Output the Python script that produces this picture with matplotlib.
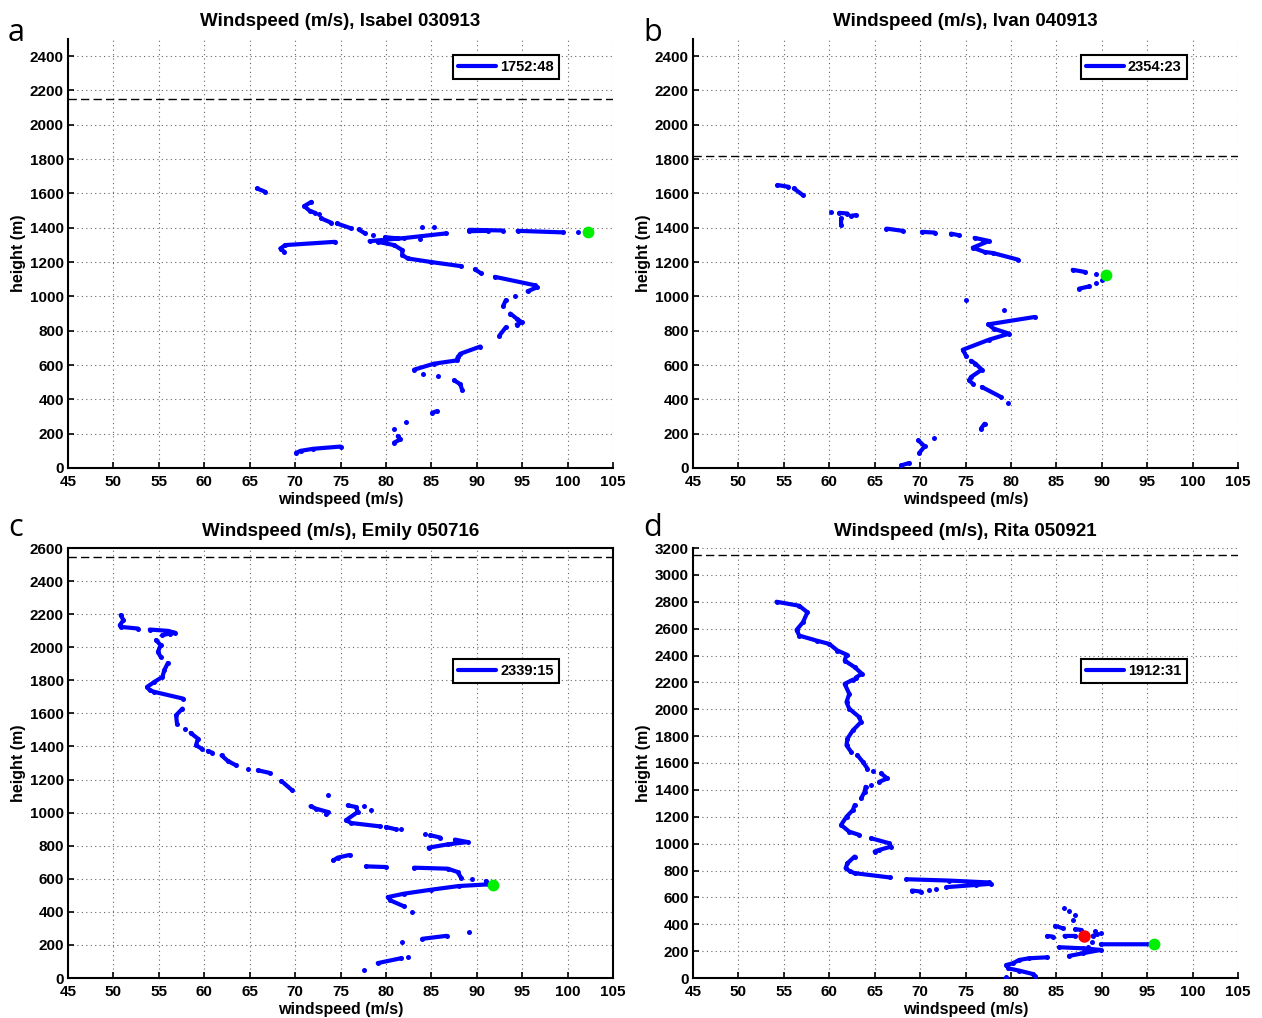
import numpy as np
import matplotlib.pyplot as plt

plt.rcParams["font.family"] = ["Liberation Sans", "DejaVu Sans"]
plt.rcParams["font.weight"] = "bold"

isabel_segments = [
    [(65.8, 1629), (66.7, 1610)],
    [(71.8, 1551), (71.0, 1526), (71.6, 1499), (72.2, 1487)],
    [(72.6, 1478)],
    [(72.9, 1454), (74.0, 1429)],
    [(74.6, 1425), (76.2, 1396)],
    [(77.0, 1390), (77.7, 1367)],
    [(78.6, 1357)],
    [(78.2, 1322), (82.0, 1340), (86.6, 1367)],
    [(79.9, 1345), (81.3, 1338)],
    [(79.1, 1318), (80.9, 1299), (81.8, 1270), (81.8, 1241), (82.4, 1221), (85.0, 1200), (88.3, 1176)],
    [(84.0, 1406)], [(85.3, 1402)], [(83.7, 1332)],
    [(68.4, 1279), (68.9, 1299), (74.4, 1318)],
    [(68.4, 1279), (68.8, 1260)],
    [(89.2, 1388), (92.9, 1384)],
    [(89.2, 1380), (91.2, 1382)],
    [(94.5, 1382), (99.5, 1373)],
    [(101.1, 1373)],
    [(89.8, 1157), (90.5, 1134)],
    [(92.0, 1114), (96.4, 1065), (96.6, 1052), (95.6, 1030)],
    [(94.2, 1002)],
    [(93.2, 978), (92.9, 943)],
    [(93.7, 900), (94.4, 870), (95.0, 848), (94.4, 836)],
    [(93.2, 820), (92.5, 772)],
    [(90.4, 708), (88.2, 666), (87.9, 646), (87.8, 627), (85.3, 608), (83.1, 573)],
    [(84.1, 550)], [(85.7, 534)],
    [(87.5, 511), (88.2, 488), (88.4, 453)],
    [(85.1, 322), (85.6, 331)],
    [(82.2, 270)], [(80.9, 227)],
    [(81.3, 186), (81.6, 167), (80.9, 148)],
    [(70.1, 88), (70.6, 100), (72.0, 112), (75.0, 125)],
]

ivan_segments = [
    [(54.3, 1649), (55.5, 1639)],
    [(56.1, 1629), (57.1, 1590)],
    [(60.2, 1489)],
    [(61.1, 1487), (62.0, 1483)],
    [(62.4, 1470), (62.9, 1473)],
    [(61.3, 1454), (61.3, 1415)],
    [(66.3, 1395), (68.1, 1382)],
    [(70.2, 1376), (71.6, 1372)],
    [(73.4, 1366), (74.3, 1356)],
    [(76.0, 1341), (76.9, 1331), (77.6, 1323), (75.8, 1284), (77.1, 1259), (78.0, 1253), (80.8, 1214)],
    [(86.8, 1155), (88.2, 1142)],
    [(89.4, 1132)], [(89.4, 1080)], [(90.0, 1097)],
    [(87.5, 1045), (88.6, 1058)],
    [(75.0, 977)],
    [(79.2, 922)],
    [(82.6, 880), (77.5, 837), (78.1, 812), (79.8, 783), (77.6, 748), (74.7, 689), (75.1, 650)],
    [(75.6, 625), (76.1, 608), (76.8, 573), (75.6, 530), (75.4, 511), (75.8, 491)],
    [(76.8, 472), (78.9, 414)],
    [(79.7, 381)],
    [(77.1, 258), (76.7, 229)],
    [(71.5, 177)],
    [(69.8, 161), (70.5, 126), (69.9, 87)],
    [(67.9, 15), (68.8, 29)],
]

emily_segments = [
    [(50.8, 2194), (51.1, 2164), (50.7, 2133), (50.8, 2123), (52.7, 2113)],
    [(54.0, 2107), (56.0, 2099), (56.8, 2087), (56.2, 2083), (55.4, 2073)],
    [(54.7, 2043), (55.2, 2012), (54.9, 1972), (55.2, 1942)],
    [(56.0, 1905), (55.6, 1861), (55.4, 1821), (54.5, 1790), (53.7, 1760), (54.0, 1740), (54.5, 1730), (57.7, 1689)],
    [(57.6, 1629), (56.9, 1589), (57.0, 1538)],
    [(57.9, 1508)],
    [(58.5, 1482), (59.3, 1447), (59.1, 1407), (59.7, 1387)],
    [(60.4, 1373), (60.9, 1362)],
    [(61.9, 1346), (62.6, 1312), (63.5, 1286)],
    [(64.8, 1266)],
    [(65.9, 1256), (67.2, 1240)],
    [(68.5, 1191), (69.7, 1134)],
    [(73.6, 1104)],
    [(71.7, 1038), (72.3, 1024), (73.6, 1004), (73.4, 990)],
    [(75.8, 1044), (76.7, 1034), (76.9, 1004), (75.6, 954), (76.2, 937), (79.3, 917)],
    [(77.6, 1040)], [(78.4, 1014)],
    [(80.0, 913), (81.1, 899)],
    [(81.7, 903)],
    [(84.3, 869)],
    [(84.9, 863), (86.0, 849)],
    [(84.7, 788), (86.8, 808), (89.0, 822), (87.6, 837)],
    [(74.2, 711), (74.7, 728), (76.0, 744)],
    [(77.8, 675), (80.0, 671)],
    [(83.1, 667), (86.8, 661), (87.9, 641), (88.3, 604)],
    [(89.5, 596)],
    [(91.0, 586), (91.2, 566), (88.0, 556), (85.0, 534), (82.0, 510), (80.2, 489), (80.5, 469), (82.0, 433)],
    [(82.9, 399)],
    [(89.1, 278)],
    [(84.0, 237), (86.7, 255)],
    [(81.8, 217)],
    [(82.4, 126)],
    [(79.1, 90), (81.7, 120)],
    [(77.6, 51)],
]

rita_segments = [
    [(54.2, 2800), (56.7, 2770), (57.6, 2721), (57.1, 2647), (56.4, 2590), (56.7, 2548), (58.6, 2511),
     (60.0, 2486), (60.9, 2437), (61.9, 2407), (61.7, 2362), (62.8, 2313), (63.6, 2264), (62.9, 2235)],
    [(62.6, 2220), (61.7, 2189), (62.2, 2115), (61.9, 2053), (62.2, 2004), (63.3, 1942), (63.5, 1905),
     (62.6, 1843), (62.0, 1781), (61.9, 1732), (62.4, 1683)],
    [(63.1, 1658), (63.7, 1608), (64.2, 1559)],
    [(64.8, 1542)],
    [(65.7, 1522), (66.4, 1485), (65.5, 1460)],
    [(64.6, 1435)],
    [(64.0, 1423), (63.9, 1386), (63.5, 1336)],
    [(62.8, 1287), (62.6, 1250), (61.9, 1200), (61.3, 1139), (62.2, 1089), (63.3, 1065)],
    [(64.6, 1040), (66.6, 1003), (66.8, 978), (65.5, 953), (65.0, 941)],
    [(62.8, 904), (62.0, 854), (61.8, 817), (62.3, 793), (62.8, 780), (66.7, 748)],
    [(68.5, 735), (73.2, 725), (77.6, 711), (77.8, 701), (76.2, 693), (72.9, 676)],
    [(71.8, 661)], [(71.0, 656)],
    [(69.1, 651), (70.1, 643)],
    [(85.8, 524)], [(86.4, 502)], [(87.0, 470)], [(86.8, 432)],
    [(84.9, 388), (85.7, 370)],
    [(87.1, 363), (87.7, 358)],
    [(89.3, 353)], [(89.9, 338)],
    [(84.0, 313), (84.6, 308)],
    [(85.9, 313), (87.1, 313)],
    [(89.0, 313), (89.5, 328)],
    [(88.9, 271)],
    [(89.9, 251), (95.7, 251)],
    [(85.3, 229), (87.9, 221), (89.9, 209), (87.9, 184), (86.4, 164)],
    [(88.5, 234)],
    [(84.0, 154), (82.0, 147), (80.9, 134), (80.2, 109), (79.5, 97), (79.7, 72), (80.9, 55), (82.4, 30), (82.6, 15)],
    [(79.5, 5)],
]

titles = ["Windspeed (m/s), Isabel 030913", "Windspeed (m/s), Ivan 040913",
          "Windspeed (m/s), Emily 050716", "Windspeed (m/s), Rita 050921"]
legend_labels = ["1752:48", "2354:23", "2339:15", "1912:31"]
panel_letters = ["a", "b", "c", "d"]
dashed_heights = [2150, 1820, 2545, 3150]
y_tops = [2500, 2500, 2600, 3200]
green_points = [(102.2, 1373), (90.5, 1122), (91.8, 564), (95.8, 251)]
red_points = [None, None, None, (88.0, 313)]
profiles = [isabel_segments, ivan_segments, emily_segments, rita_segments]


def to_xy(segments):
    """Join the pieces into one x/y pair with NaN gaps."""
    xs, ys = [], []
    for seg in segments:
        for x, y in seg:
            xs.append(x)
            ys.append(y)
        xs.append(np.nan)
        ys.append(np.nan)
    return np.array(xs), np.array(ys)


W, H = 1262, 1018
fig = plt.figure(figsize=(W / 100, H / 100), dpi=100)

# axes boxes in pixels: left, top, right, bottom
boxes = [(68, 39, 613, 468), (693, 39, 1238, 468), (68, 548, 613, 978), (693, 548, 1238, 978)]
legend_anchor = [(0.901, 0.963), (0.906, 0.963), (0.901, 0.742), (0.906, 0.742)]
letter_pos = [(8, 41), (643, 41), (8, 536), (643, 536)]

for i in range(4):
    l, t, r, b = boxes[i]
    ax = fig.add_axes([l / W, 1 - b / H, (r - l) / W, (b - t) / H])
    ws, h = to_xy(profiles[i])
    ax.plot(ws, h, "-", color="#0000ff", lw=3.0, marker="o", ms=3.6, mew=0,
            solid_capstyle="round", solid_joinstyle="round",
            label=legend_labels[i], zorder=3)
    ax.axhline(dashed_heights[i], color="k", lw=1.0, ls=(0, (6, 3)), zorder=2)
    gx, gy = green_points[i]
    ax.plot(gx, gy, "o", color="#00ee00", ms=8.5, mew=0, zorder=4)
    if red_points[i] is not None:
        rx, ry = red_points[i]
        ax.plot(rx, ry, "o", color="#ff0000", ms=9, mew=0, zorder=4)

    ax.set_xlim(45, 105)
    ax.set_ylim(0, y_tops[i])
    ax.set_xticks(np.arange(45, 106, 5))
    ax.set_yticks(np.arange(0, y_tops[i] + 1, 200))
    ax.grid(True, color="0.4", ls=(0, (1, 3)), lw=0.8)
    ax.set_axisbelow(True)
    ax.tick_params(direction="in", length=4, width=1.2, labelsize=11)
    ax.tick_params(axis="x", pad=5)
    ax.tick_params(axis="y", pad=3)
    for lab in ax.get_xticklabels() + ax.get_yticklabels():
        lab.set_fontweight("bold")
    for side in ["left", "bottom"]:
        ax.spines[side].set_linewidth(1.5)
    if i == 2:
        ax.spines["top"].set_linewidth(1.5)
        ax.spines["right"].set_linewidth(1.5)
    else:
        ax.spines["top"].set_visible(False)
        ax.spines["right"].set_visible(False)

    ax.set_title(titles[i], fontsize=13.5, fontweight="bold", pad=9)
    ax.set_xlabel("windspeed (m/s)", fontsize=11.5, fontweight="bold", labelpad=2)
    ax.set_ylabel("height (m)", fontsize=11.5, fontweight="bold", labelpad=3)

    leg = ax.legend(loc="upper right", bbox_to_anchor=legend_anchor[i], fancybox=False,
                    framealpha=1, edgecolor="k", handlelength=2.6, handletextpad=0.3,
                    borderpad=0.35, borderaxespad=0, prop={"weight": "bold", "size": 10.5})
    leg.get_frame().set_linewidth(1.5)
    for line in leg.get_lines():
        line.set_marker("")

    lx, ly = letter_pos[i]
    fig.text(lx / W, 1 - ly / H, panel_letters[i], fontsize=22, fontweight="normal",
             family=["Open Sans", "DejaVu Sans"], va="baseline", ha="left")

fig.savefig("out.png", dpi=100)
